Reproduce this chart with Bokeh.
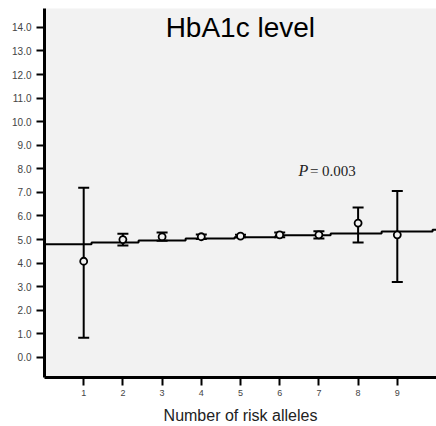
from bokeh.plotting import figure
from bokeh.models import ColumnDataSource, Whisker, TeeHead, Label, FixedTicker, Range1d
from bokeh.embed import file_html
from bokeh.resources import INLINE

# Data
alleles = [1, 2, 3, 4, 5, 6, 7, 8, 9]
means = [4.08, 5.0, 5.12, 5.12, 5.15, 5.2, 5.2, 5.7, 5.2]
lower = [0.84, 4.75, 4.95, 5.02, 5.1, 5.1, 5.05, 4.88, 3.2]
upper = [7.2, 5.25, 5.3, 5.22, 5.2, 5.3, 5.35, 6.36, 7.06]
fit_edges = [0, 1.2, 2.4, 3.6, 4.85, 5.9, 7.3, 8.6, 9.9, 10.0]
fit_levels = [4.80, 4.88, 4.96, 5.04, 5.10, 5.18, 5.26, 5.34, 5.42]
y_ticks = [0, 1, 2, 3, 4, 5, 6, 7, 8, 9, 10, 11, 12, 13, 14]
title_text = "HbA1c level"
x_label = "Number of risk alleles"
p_value = "= 0.003"

p = figure(width=436, height=426, output_backend="svg", toolbar_location=None,
           x_range=Range1d(0, 10), y_range=Range1d(-0.85, 14.8),
           min_border_left=44, min_border_right=0, min_border_top=8, min_border_bottom=49)
p.background_fill_color = "#f2f2f2"
p.border_fill_color = "white"
p.outline_line_color = None
p.grid.visible = False

for ax in (p.xaxis[0], p.yaxis[0]):
    ax.axis_line_width = 3
    ax.axis_line_color = "black"
    ax.major_tick_line_width = 2
    ax.major_tick_line_color = "black"
    ax.major_tick_in = 0
    ax.major_tick_out = 8
    ax.minor_tick_line_color = None
    ax.major_label_text_font = "Liberation Sans"
    ax.major_label_text_color = "#444444"

p.yaxis.ticker = FixedTicker(ticks=y_ticks)
p.yaxis.major_label_overrides = {t: f"{t:.1f}" for t in y_ticks}
p.yaxis.major_label_text_font_size = "10px"
p.yaxis.major_label_standoff = 5

p.xaxis.ticker = FixedTicker(ticks=alleles)
p.xaxis.major_label_text_font_size = "9px"
p.xaxis.major_label_standoff = 4
p.xaxis.axis_label = x_label
p.xaxis.axis_label_text_font = "Liberation Sans"
p.xaxis.axis_label_text_font_size = "16px"
p.xaxis.axis_label_text_font_style = "normal"
p.xaxis.axis_label_text_color = "#222222"
p.xaxis.axis_label_standoff = 8

# fitted step line
p.step(x=fit_edges, y=fit_levels + [fit_levels[-1]], mode="after", line_color="black", line_width=2)

src = ColumnDataSource(dict(x=alleles, m=means, lo=lower, up=upper))
w = Whisker(source=src, base="x", lower="lo", upper="up", line_width=2, line_color="black",
            upper_head=TeeHead(size=11, line_width=2, line_color="black"),
            lower_head=TeeHead(size=11, line_width=2, line_color="black"))
p.add_layout(w)
p.scatter("x", "m", source=src, size=7, fill_color="#f2f2f2", line_color="black", line_width=1.8)

p.add_layout(Label(x=3.09, y=14.0, text=title_text, text_font="Liberation Sans",
                   text_font_size="28px", text_color="black", text_baseline="alphabetic"))
p.add_layout(Label(x=6.48, y=7.92, text="P", text_font="Liberation Serif", text_font_style="italic",
                   text_font_size="16px", text_color="#222222", text_baseline="alphabetic"))
p.add_layout(Label(x=6.77, y=7.92, text=p_value, text_font="Liberation Serif",
                   text_font_size="15px", text_color="#222222", text_baseline="alphabetic"))

open("out.html", "w").write(file_html(p, INLINE))
